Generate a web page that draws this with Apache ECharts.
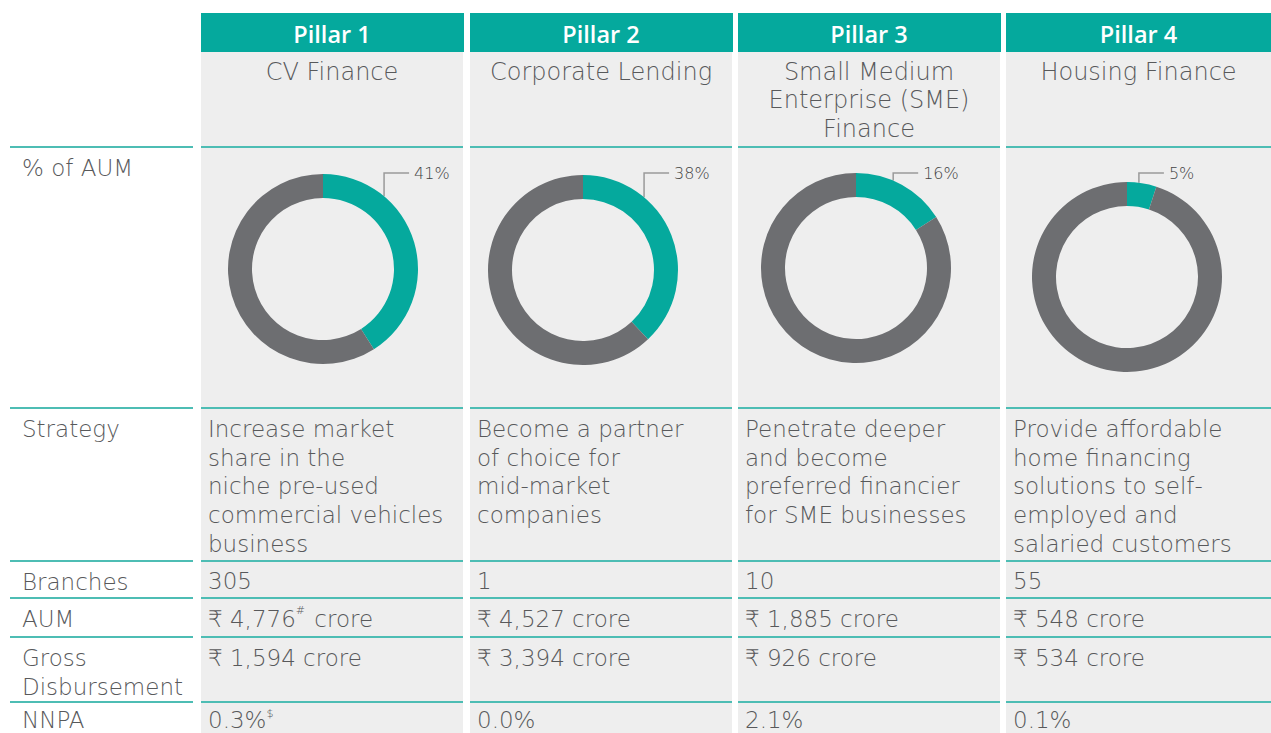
<!DOCTYPE html>
<html>
<head>
<meta charset="utf-8">
<script src="https://cdn.jsdelivr.net/npm/echarts@6/dist/echarts.min.js"></script>
<style>
html,body{margin:0;padding:0;background:#fff}
#main{width:1271px;height:733px}
</style>
</head>
<body>
<div id="main"></div>
<script>
// data
const pillars = ['Pillar 1', 'Pillar 2', 'Pillar 3', 'Pillar 4'];
const segments = ['CV Finance', 'Corporate Lending', 'Small Medium\nEnterprise (SME)\nFinance', 'Housing Finance'];
const aumShare = [41, 38, 16, 5];
const strategies = [
  'Increase market\nshare in the\nniche pre-used\ncommercial vehicles\nbusiness',
  'Become a partner\nof choice for\nmid-market\ncompanies',
  'Penetrate deeper\nand become\npreferred financier\nfor SME businesses',
  'Provide affordable\nhome financing\nsolutions to self-\nemployed and\nsalaried customers'
];
const branches = [305, 1, 10, 55];
const aumCrore = [4776, 4527, 1885, 548];
const aumNote = ['#', '', '', ''];
const disbCrore = [1594, 3394, 926, 534];
const nnpa = [0.3, 0.0, 2.1, 0.1];
const nnpaNote = ['$', '', '', ''];
const rowLabels = ['% of AUM', 'Strategy', 'Branches', 'AUM', 'Gross\nDisbursement', 'NNPA'];

// layout
const FONT = '"DejaVu Sans", "Open Sans", sans-serif';
const HEAD_FONT = '"Open Sans", "DejaVu Sans", sans-serif';
const TEAL = '#05a99d';
const LINE = '#4dbdb4';
const GREY_RING = '#6d6e71';
const TXT = '#58595b';
const colX = [201, 470, 738, 1006];
const colW = [262, 262, 262, 265];
const rowLines = [147, 408, 561, 598, 637, 702];
const pieCenter = [[323, 269], [583, 270], [856, 268], [1127, 277]];
const R_IN = 71, R_OUT = 95;
const LABEL_Y = 173;

const myChart = echarts.init(document.getElementById('main'), null, {renderer: 'svg'});

const fmt = n => n.toLocaleString('en-US');
const supRich = {sup: {fontSize: 11, fontFamily: FONT, fontWeight: 200, fill: TXT, verticalAlign: 'top', lineHeight: 24, padding: [0, 2, 12, 0]}};

function txt(x, y, text, extra) {
  return {
    type: 'text', x: x, y: y, silent: true,
    style: Object.assign({
      text: text, fill: TXT,
      fontFamily: FONT, fontSize: 23, fontWeight: 200,
      lineHeight: 28.7, verticalAlign: 'top', align: 'left'
    }, extra || {})
  };
}

const graphic = [];
// cells
colX.forEach((x, i) => {
  graphic.push({type: 'rect', silent: true, shape: {x: x, y: 52, width: colW[i], height: 681}, style: {fill: '#eeeeee'}});
  graphic.push({type: 'rect', silent: true, shape: {x: x, y: 13, width: colW[i] + 1, height: 39}, style: {fill: TEAL}});
});
// row separators
rowLines.forEach(y => {
  graphic.push({type: 'rect', silent: true, shape: {x: 10, y: y - 1, width: 183, height: 2}, style: {fill: LINE}});
  colX.forEach((x, i) => {
    graphic.push({type: 'rect', silent: true, shape: {x: x, y: y - 1, width: colW[i], height: 2}, style: {fill: LINE}});
  });
});
// row labels
rowLabels.forEach((t, r) => {
  if (r === 5) graphic.push(txt(22, 720, t, {verticalAlign: 'middle', lineHeight: 23}));
  else graphic.push(txt(22, rowLines[r] + 6.5, t));
});
// column content
colX.forEach((x, i) => {
  const cx = x + colW[i] / 2;
  graphic.push(txt(cx, 34, pillars[i], {fill: '#fff', fontFamily: HEAD_FONT, fontSize: 23.5, fontWeight: 600, align: 'center', verticalAlign: 'middle'}));
  graphic.push(txt(cx, 57.5, segments[i], {align: 'center', fontSize: 24, lineHeight: 28.5}));
  const vx = x + 7;
  graphic.push(txt(vx, rowLines[1] + 6.5, strategies[i]));
  graphic.push(txt(vx, rowLines[2] + 5.5, String(branches[i])));
  graphic.push(txt(vx, rowLines[3] + 6.5, '₹ ' + fmt(aumCrore[i]) + (aumNote[i] ? '{sup|' + aumNote[i] + '}' : '') + ' crore', {rich: supRich}));
  graphic.push(txt(vx, rowLines[4] + 6.5, '₹ ' + fmt(disbCrore[i]) + ' crore'));
  graphic.push(txt(vx, 720, nnpa[i].toFixed(1) + '%' + (nnpaNote[i] ? '{sup|' + nnpaNote[i] + '}' : ''), {rich: supRich, verticalAlign: 'middle', lineHeight: 23}));
});

function leaderLayout(i) {
  return function () {
    const c = pieCenter[i];
    const mid = aumShare[i] / 100 * 180;
    const ang = Math.min(mid * 0.8, 40) * Math.PI / 180;
    const px = c[0] + R_OUT * Math.sin(ang);
    const py = c[1] - R_OUT * Math.cos(ang);
    return {
      x: px + 30, y: LABEL_Y, align: 'left', verticalAlign: 'middle',
      labelLinePoints: [[px, py], [px, LABEL_Y], [px + 25, LABEL_Y]]
    };
  };
}

const series = aumShare.map((v, i) => ({
  type: 'pie',
  silent: true,
  center: pieCenter[i],
  radius: [R_IN, R_OUT],
  startAngle: 90,
  clockwise: true,
  avoidLabelOverlap: false,
  emphasis: {disabled: true},
  label: {show: false},
  labelLine: {show: false},
  labelLayout: leaderLayout(i),
  data: [
    {
      value: v, name: pillars[i],
      itemStyle: {color: TEAL},
      label: {show: true, position: 'outside', formatter: '{c}%', fontFamily: FONT, fontWeight: 200, fontSize: 16, color: '#444'},
      labelLine: {show: true, length: 10, length2: 20, lineStyle: {color: '#9a9a9a', width: 1.5}}
    },
    {value: 100 - v, name: 'rest', itemStyle: {color: GREY_RING}}
  ]
}));

const option = {
  backgroundColor: '#fff',
  animation: false,
  graphic: graphic,
  series: series
};
myChart.setOption(option);
</script>
</body>
</html>
